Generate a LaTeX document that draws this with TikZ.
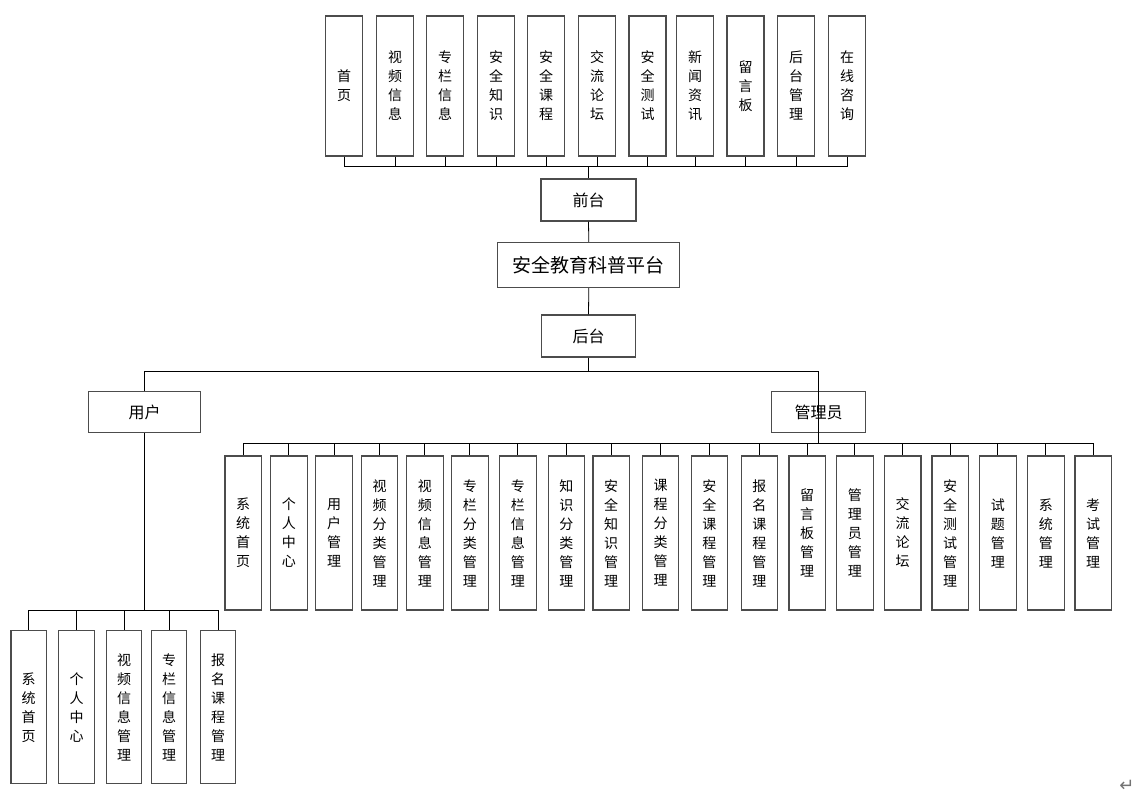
\documentclass[tikz,border=0pt]{standalone}
\usepackage{fontspec}
\setmainfont{Noto Sans CJK SC}
\newfontfamily\symfont{DejaVu Sans}

\begin{document}
\begin{tikzpicture}[x=1pt,y=-1pt,
  tallnode/.style={draw=black!70, line width=1.1pt, fill=white, minimum width=37pt, minimum height=140pt, inner sep=0pt, align=center, font=\fontsize{14}{19}\selectfont},
  subnode/.style={tallnode, minimum width=36.5pt, minimum height=154pt},
  widenode/.style={draw=black!70, line width=1.1pt, fill=white, inner sep=0pt, font=\fontsize{16}{19}\selectfont},
  link/.style={draw=black, line width=0.8pt}]
\useasboundingbox (0,0) rectangle (1145,800);
\node[tallnode] (F1) at (344,86) {首\\页};
\node[tallnode] (F2) at (395,86) {视\\频\\信\\息};
\node[tallnode] (F3) at (445,86) {专\\栏\\信\\息};
\node[tallnode] (F4) at (496,86) {安\\全\\知\\识};
\node[tallnode] (F5) at (546,86) {安\\全\\课\\程};
\node[tallnode] (F6) at (597,86) {交\\流\\论\\坛};
\node[tallnode] (F7) at (647.5,86) {安\\全\\测\\试};
\node[tallnode] (F8) at (695,86) {新\\闻\\资\\讯};
\node[tallnode] (F9) at (745.5,86) {留\\言\\板};
\node[tallnode] (F10) at (796,86) {后\\台\\管\\理};
\node[tallnode] (F11) at (847,86) {在\\线\\咨\\询};
\node[widenode, minimum width=95pt, minimum height=42pt] (Front) at (588.5,200) {前台};
\node[widenode, minimum width=182pt, minimum height=45pt, font=\fontsize{19}{22}\selectfont] (Plat) at (588.8,265) {安全教育科普平台};
\node[widenode, minimum width=94pt, minimum height=42pt] (Back) at (588.5,336) {后台};
\node[widenode, minimum width=112pt, minimum height=41pt] (User) at (144.7,412) {用户};
\node[widenode, minimum width=94pt, minimum height=41pt] (Admin) at (818.6,412) {管理员};
\node[subnode] (A1) at (243.2,533) {系\\统\\首\\页};
\node[subnode] (A2) at (288.8,533) {个\\人\\中\\心};
\node[subnode] (A3) at (334.1,533) {用\\户\\管\\理};
\node[subnode] (A4) at (379.6,533) {视\\频\\分\\类\\管\\理};
\node[subnode] (A5) at (424.8,533) {视\\频\\信\\息\\管\\理};
\node[subnode] (A6) at (469.8,533) {专\\栏\\分\\类\\管\\理};
\node[subnode] (A7) at (517.8,533) {专\\栏\\信\\息\\管\\理};
\node[subnode] (A8) at (566.4,533) {知\\识\\分\\类\\管\\理};
\node[subnode] (A9) at (611.2,533) {安\\全\\知\\识\\管\\理};
\node[subnode] (A10) at (660.5,533) {课\\程\\分\\类\\管\\理};
\node[subnode] (A11) at (709.3,533) {安\\全\\课\\程\\管\\理};
\node[subnode] (A12) at (759.4,533) {报\\名\\课\\程\\管\\理};
\node[subnode] (A13) at (807.2,533) {留\\言\\板\\管\\理};
\node[subnode] (A14) at (854.8,533) {管\\理\\员\\管\\理};
\node[subnode] (A15) at (902.7,533) {交\\流\\论\\坛};
\node[subnode] (A16) at (950.2,533) {安\\全\\测\\试\\管\\理};
\node[subnode] (A17) at (997.8,533) {试\\题\\管\\理};
\node[subnode] (A18) at (1045.8,533) {系\\统\\管\\理};
\node[subnode] (A19) at (1093.2,533) {考\\试\\管\\理};
\node[subnode, minimum width=35.5pt, minimum height=153pt] (U1) at (28.7,707.4) {系\\统\\首\\页};
\node[subnode, minimum width=35.5pt, minimum height=153pt] (U2) at (76.5,707.4) {个\\人\\中\\心};
\node[subnode, minimum width=35.5pt, minimum height=153pt] (U3) at (124,707.4) {视\\频\\信\\息\\管\\理};
\node[subnode, minimum width=35.5pt, minimum height=153pt] (U4) at (169,707.4) {专\\栏\\信\\息\\管\\理};
\node[subnode, minimum width=35.5pt, minimum height=153pt] (U5) at (218,707.4) {报\\名\\课\\程\\管\\理};
\node[text=black!55, font=\symfont\fontsize{18}{18}\selectfont] (Ret) at (1127,786) {↵};
\draw[link] (F1.south) -- ++(0,10) -| (Front.north);
\draw[link] (F2.south) -- ++(0,10) -| (Front.north);
\draw[link] (F3.south) -- ++(0,10) -| (Front.north);
\draw[link] (F4.south) -- ++(0,10) -| (Front.north);
\draw[link] (F5.south) -- ++(0,10) -| (Front.north);
\draw[link] (F6.south) -- ++(0,10) -| (Front.north);
\draw[link] (F7.south) -- ++(0,10) -| (Front.north);
\draw[link] (F8.south) -- ++(0,10) -| (Front.north);
\draw[link] (F9.south) -- ++(0,10) -| (Front.north);
\draw[link] (F10.south) -- ++(0,10) -| (Front.north);
\draw[link] (F11.south) -- ++(0,10) -| (Front.north);
\draw[link] (Front.south) -- (Plat.north);
\draw[link] (Plat.south) -- (Back.north);
\draw[link] (Back.south) -- ++(0,14) -| (User.north);
\draw[link] (Back.south) -- ++(0,14) -| (Admin.north);
\draw[link] (Admin.north) -- (Admin.south);
\draw[link] (Admin.south) -- ++(0,10) -| (A1.north);
\draw[link] (Admin.south) -- ++(0,10) -| (A2.north);
\draw[link] (Admin.south) -- ++(0,10) -| (A3.north);
\draw[link] (Admin.south) -- ++(0,10) -| (A4.north);
\draw[link] (Admin.south) -- ++(0,10) -| (A5.north);
\draw[link] (Admin.south) -- ++(0,10) -| (A6.north);
\draw[link] (Admin.south) -- ++(0,10) -| (A7.north);
\draw[link] (Admin.south) -- ++(0,10) -| (A8.north);
\draw[link] (Admin.south) -- ++(0,10) -| (A9.north);
\draw[link] (Admin.south) -- ++(0,10) -| (A10.north);
\draw[link] (Admin.south) -- ++(0,10) -| (A11.north);
\draw[link] (Admin.south) -- ++(0,10) -| (A12.north);
\draw[link] (Admin.south) -- ++(0,10) -| (A13.north);
\draw[link] (Admin.south) -- ++(0,10) -| (A14.north);
\draw[link] (Admin.south) -- ++(0,10) -| (A15.north);
\draw[link] (Admin.south) -- ++(0,10) -| (A16.north);
\draw[link] (Admin.south) -- ++(0,10) -| (A17.north);
\draw[link] (Admin.south) -- ++(0,10) -| (A18.north);
\draw[link] (Admin.south) -- ++(0,10) -| (A19.north);
\draw[link] (User.south) -- ++(0,177) -| (U1.north);
\draw[link] (User.south) -- ++(0,177) -| (U2.north);
\draw[link] (User.south) -- ++(0,177) -| (U3.north);
\draw[link] (User.south) -- ++(0,177) -| (U4.north);
\draw[link] (User.south) -- ++(0,177) -| (U5.north);
\end{tikzpicture}
\end{document}
